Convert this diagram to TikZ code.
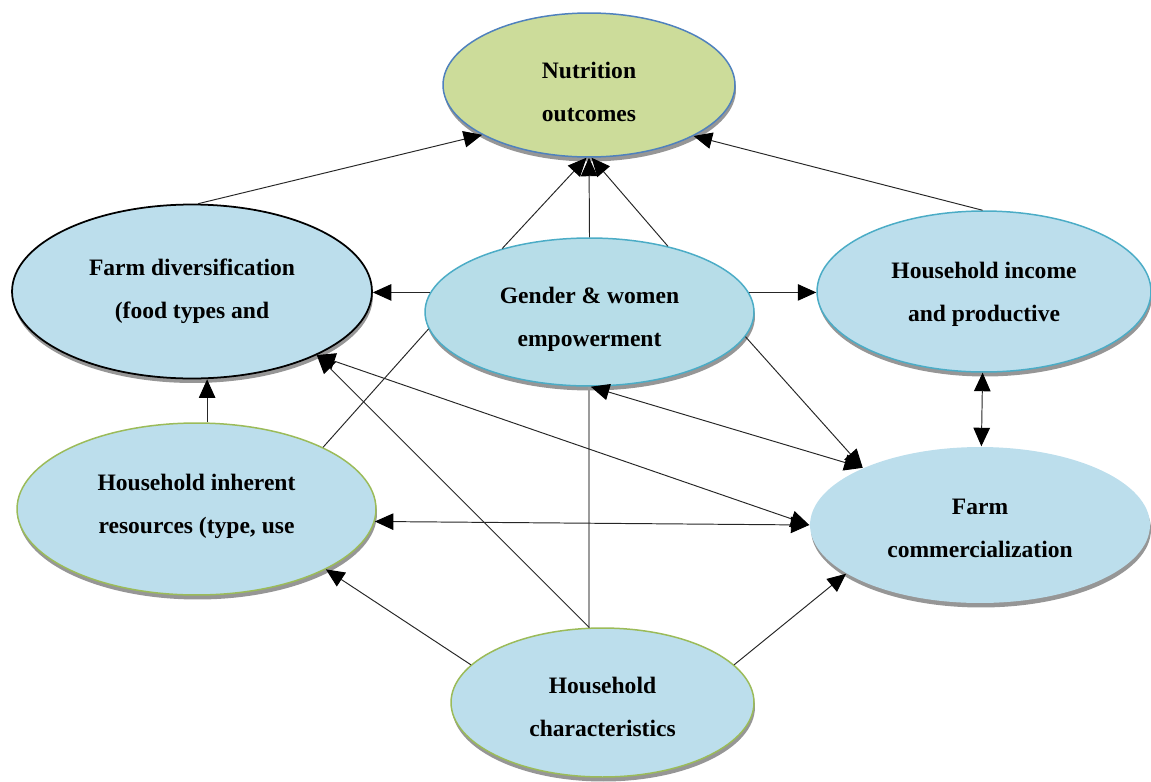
\documentclass[tikz,border=0pt]{standalone}
\usepackage{fontspec}
\setmainfont{Liberation Serif}
\usetikzlibrary{arrows.meta,shapes.geometric,shadows}
\definecolor{nutfill}{RGB}{204,220,154}
\definecolor{nutdraw}{RGB}{79,129,189}
\definecolor{bluefill}{RGB}{188,222,236}
\definecolor{genderfill}{RGB}{183,221,232}
\definecolor{tealdraw}{RGB}{75,172,198}
\definecolor{greendraw}{RGB}{155,187,89}
\definecolor{shadowgray}{RGB}{150,150,150}
\definecolor{vline}{RGB}{155,155,155}
\tikzset{
  ell/.style={ellipse, inner sep=0pt, line width=0.85pt,
    drop shadow={shadow xshift=0.02cm, shadow yshift=-0.09cm, fill=shadowgray, opacity=1}},
  txt/.style={inner sep=0pt, align=center, font=\fontsize{13.4}{24.5}\selectfont\bfseries},
  tipx/.tip={Triangle[length=0.37cm,width=0.33cm,fill=black,color=black]},
  arr/.style={-tipx, line width=0.55pt, draw=black!85},
  dbl/.style={tipx-tipx, line width=0.55pt, draw=black!85},
  ln/.style={line width=0.55pt, draw=black!85},
  gline/.style={line width=1.1pt, draw=vline},
}
\begin{document}
\begin{tikzpicture}[x=0.02cm,y=-0.02cm]
\useasboundingbox (0,0) rectangle (1151,781);

\node[ell, fill=nutfill, draw=nutdraw, minimum width=5.84cm, minimum height=2.88cm] (nut) at (589,85) {};
\node[ell, fill=bluefill, draw=black, line width=1pt, minimum width=7.2cm, minimum height=3.48cm] (fd) at (192,291.5) {};
\node[ell, fill=genderfill, draw=tealdraw, minimum width=6.58cm, minimum height=2.96cm] (g) at (589.5,312) {};
\node[ell, fill=bluefill, draw=tealdraw, minimum width=6.68cm, minimum height=3.22cm] (inc) at (984,291.5) {};
\node[ell, fill=bluefill, draw=greendraw, minimum width=7.18cm, minimum height=3.44cm] (ir) at (196.5,509) {};
\node[ell, fill=bluefill, draw=none, minimum width=6.8cm, minimum height=3.12cm] (fc) at (980,525) {};
\node[ell, fill=bluefill, draw=greendraw, minimum width=6.06cm, minimum height=2.98cm] (hc) at (602.5,702.5) {};

\node[txt] (nutT) at ([yshift=-0.14cm]nut.center) {Nutrition\\outcomes};
\node[txt] (fdT) at (fd.center) {Farm diversification\\(food types and};
\node[txt] (gT) at ([yshift=-0.14cm]g.center) {Gender \& women\\empowerment};
\node[txt] (incT) at ([yshift=-0.06cm]inc.center) {Household income\\and productive};
\node[txt] (irT) at ([yshift=0.05cm]ir.center) {Household inherent\\resources (type, use};
\node[txt] (fcT) at ([yshift=-0.06cm]fc.center) {Farm\\commercialization};
\node[txt] (hcT) at ([yshift=-0.08cm]hc.center) {Household\\characteristics};

\draw[arr] (fd.86) -- (nut.205);
\draw[arr] (g.144) -- (nut.268);
\draw[arr] (g.90) -- (nut.270);
\draw[arr] (g.40) -- (nut.272);
\draw[arr] (inc.91) -- (nut.334);
\draw[arr] (g.173) -- (g.173 -| fd.east);
\draw[arr] (g.7) -- (g.7 -| inc.west);
\draw[arr] (ir.83) -- (ir.83 |- fd.south);
\draw[ln] (ir.26) -- (g.186);
\draw[gline] (hc.100) -- (hc.100 |- g.south);
\draw[arr] (hc.100) -- (fd.333);
\draw[dbl] (fd.333) -- (fc.west);
\draw[dbl] (ir.356) -- (fc.west);
\draw[dbl] (g.271) -- (fc.154);
\draw[arr] (g.351) -- (fc.154);
\draw[arr] (hc.164) -- (ir.335);
\draw[arr] (hc.16) -- (fc.200);
\draw[dbl] (inc.269) -- (fc.89);
\end{tikzpicture}
\end{document}
